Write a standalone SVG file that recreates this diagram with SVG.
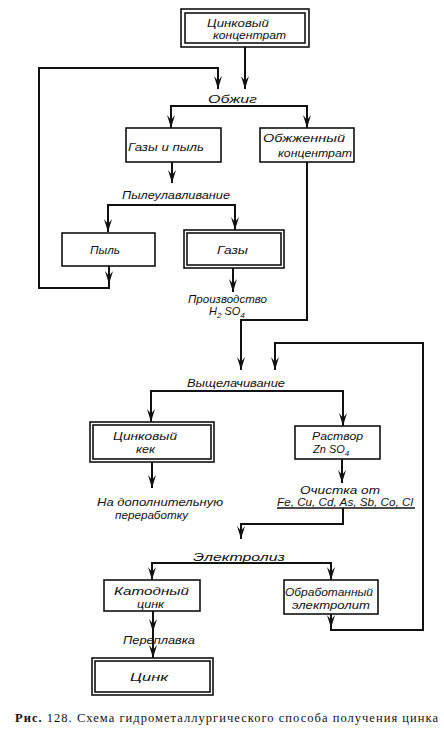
<svg xmlns="http://www.w3.org/2000/svg" width="444" height="736" viewBox="0 0 444 736">
<defs>
<marker id="ah" viewBox="0 0 13 8" refX="13" refY="4" markerWidth="13" markerHeight="8" markerUnits="userSpaceOnUse" orient="auto">
<path d="M0,0 L13,4 L0,8 L5,4 Z" fill="#111"/>
</marker>
</defs>
<style>
rect{fill:#fff;stroke:#111;stroke-width:1.6}
.t{font-family:"Liberation Sans","DejaVu Sans",sans-serif;font-style:italic;font-size:11px;fill:#111}
.c path,.c line{fill:none;stroke:#111;stroke-width:2}
.cap{font-family:"Liberation Serif","DejaVu Serif",serif;font-size:12.5px;fill:#111}
</style>
<rect x="0" y="0" width="444" height="736" style="stroke:none;fill:#fff"/>
<g class="c" id="connectors">
<line x1="245" y1="47" x2="245" y2="89" marker-end="url(#ah)"/>
<line x1="109" y1="266" x2="109" y2="284" marker-end="url(#ah)"/>
<path d="M109,283 V288 H39 V68 H218 V89" marker-end="url(#ah)"/>
<path d="M239,106 H171 V128" marker-end="url(#ah)"/>
<path d="M239,106 H307 V128" marker-end="url(#ah)"/>
<line x1="172" y1="162" x2="172" y2="183" marker-end="url(#ah)"/>
<path d="M172,205 H108 V232" marker-end="url(#ah)"/>
<path d="M172,205 H235 V230" marker-end="url(#ah)"/>
<line x1="233" y1="268" x2="233" y2="292" marker-end="url(#ah)"/>
<path d="M307,162 V320 H241 V370" marker-end="url(#ah)"/>
<line x1="331" y1="614" x2="331" y2="628" marker-end="url(#ah)"/>
<path d="M331,627 V630 H423 V343 H275 V370" marker-end="url(#ah)"/>
<path d="M240,391 H151 V422" marker-end="url(#ah)"/>
<path d="M240,391 H343 V426" marker-end="url(#ah)"/>
<line x1="152" y1="462" x2="152" y2="488" marker-end="url(#ah)"/>
<line x1="342" y1="459" x2="342" y2="483" marker-end="url(#ah)"/>
<path d="M343,508 V524 H241 V539" marker-end="url(#ah)"/>
<path d="M240,563 H152 V580" marker-end="url(#ah)"/>
<path d="M240,563 H331 V580" marker-end="url(#ah)"/>
<line x1="153" y1="611" x2="153" y2="632" marker-end="url(#ah)"/>
<line x1="153" y1="630" x2="153" y2="658" marker-end="url(#ah)"/>
<line x1="277" y1="508" x2="415" y2="508" style="stroke-width:1.5"/>
</g>
<g id="n-concentrate">
<rect x="181" y="9" width="128" height="38"/>
<rect x="185" y="13" width="120" height="30"/>
<text class="t" x="207" y="27" textLength="62" lengthAdjust="spacingAndGlyphs">Цинковый</text>
<text class="t" x="213" y="39" textLength="73" lengthAdjust="spacingAndGlyphs">концентрат</text>
</g>
<g id="n-roasting"><text class="t" x="208" y="103" textLength="49" lengthAdjust="spacingAndGlyphs">Обжиг</text></g>
<g id="n-gases-dust">
<rect x="126" y="128" width="95" height="34"/>
<text class="t" x="128" y="151" textLength="76" lengthAdjust="spacingAndGlyphs">Газы и пыль</text>
</g>
<g id="n-roasted">
<rect x="260" y="128" width="94" height="34"/>
<text class="t" x="263" y="142" textLength="82" lengthAdjust="spacingAndGlyphs">Обжженный</text>
<text class="t" x="278" y="157" textLength="74" lengthAdjust="spacingAndGlyphs">концентрат</text>
</g>
<g id="n-dustcatch"><text class="t" x="122" y="199" textLength="108" lengthAdjust="spacingAndGlyphs">Пылеулавливание</text></g>
<g id="n-dust">
<rect x="62" y="233" width="93" height="33"/>
<text class="t" x="90" y="254" textLength="30" lengthAdjust="spacingAndGlyphs">Пыль</text>
</g>
<g id="n-gases">
<rect x="184" y="230" width="100" height="38"/>
<rect x="187" y="233" width="94" height="32"/>
<text class="t" x="217" y="254" textLength="31" lengthAdjust="spacingAndGlyphs">Газы</text>
</g>
<g id="n-acid">
<text class="t" x="188" y="303" textLength="79" lengthAdjust="spacingAndGlyphs">Производство</text>
<text class="t" x="209" y="315">H<tspan font-size="8" dy="3">2</tspan><tspan dy="-3" dx="3">SO</tspan><tspan font-size="8" dy="3">4</tspan></text>
</g>
<g id="n-leaching"><text class="t" x="187" y="387" textLength="98" lengthAdjust="spacingAndGlyphs">Выщелачивание</text></g>
<g id="n-cake">
<rect x="90" y="422" width="124" height="40"/>
<rect x="93" y="425" width="118" height="34"/>
<text class="t" x="113" y="440" textLength="64" lengthAdjust="spacingAndGlyphs">Цинковый</text>
<text class="t" x="136" y="453" textLength="19" lengthAdjust="spacingAndGlyphs">кек</text>
</g>
<g id="n-solution">
<rect x="295" y="426" width="85" height="33"/>
<text class="t" x="312" y="440" textLength="51" lengthAdjust="spacingAndGlyphs">Раствор</text>
<text class="t" x="313" y="453">Zn SO<tspan font-size="8" dy="3">4</tspan></text>
</g>
<g id="n-further">
<text class="t" x="97" y="506" textLength="126" lengthAdjust="spacingAndGlyphs">На дополнительную</text>
<text class="t" x="115" y="519" textLength="73" lengthAdjust="spacingAndGlyphs">переработку</text>
</g>
<g id="n-purify">
<text class="t" x="300" y="494" textLength="80" lengthAdjust="spacingAndGlyphs">Очистка от</text>
<text class="t" x="277" y="506" textLength="136" lengthAdjust="spacingAndGlyphs">Fe, Cu, Cd, As, Sb, Co, Cl</text>
</g>
<g id="n-electrolysis"><text class="t" x="193" y="561" textLength="92" lengthAdjust="spacingAndGlyphs">Электролиз</text></g>
<g id="n-cathode">
<rect x="104" y="580" width="96" height="31"/>
<text class="t" x="114" y="595" textLength="75" lengthAdjust="spacingAndGlyphs">Катодный</text>
<text class="t" x="137" y="608" textLength="27" lengthAdjust="spacingAndGlyphs">цинк</text>
</g>
<g id="n-spent">
<rect x="284" y="580" width="94" height="34"/>
<text class="t" x="285" y="596" textLength="88" lengthAdjust="spacingAndGlyphs">Обработанный</text>
<text class="t" x="292" y="609" textLength="78" lengthAdjust="spacingAndGlyphs">электролит</text>
</g>
<g id="n-remelt"><text class="t" x="123" y="644" textLength="72" lengthAdjust="spacingAndGlyphs">Переплавка</text></g>
<g id="n-zinc">
<rect x="92" y="658" width="121" height="37"/>
<rect x="95" y="661" width="115" height="31"/>
<text class="t" x="130" y="681" textLength="38" lengthAdjust="spacingAndGlyphs">Цинк</text>
</g>
<text class="cap" x="15" y="722" textLength="423"><tspan font-weight="bold">Рис.</tspan> 128. Схема гидрометаллургического способа получения цинка</text>
</svg>
